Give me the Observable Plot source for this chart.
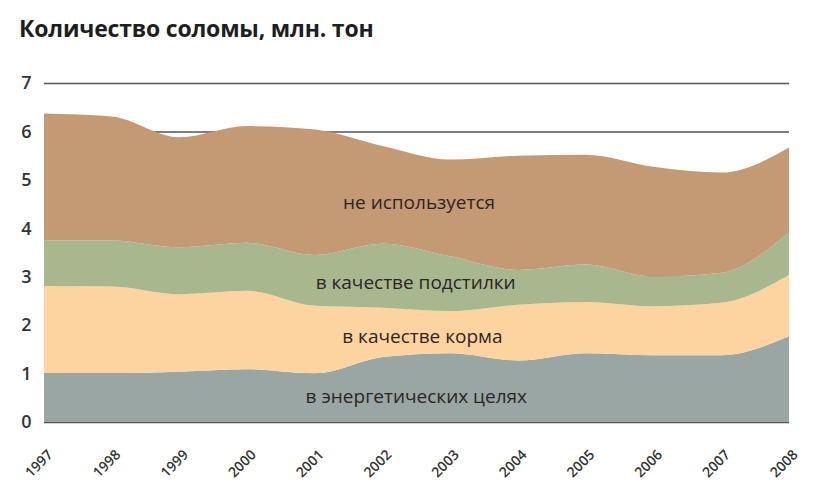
<!DOCTYPE html>
<html><head><meta charset="utf-8">
<script src="https://cdn.jsdelivr.net/npm/d3@7"></script>
<script src="https://cdn.jsdelivr.net/npm/@observablehq/plot@0.6"></script>
<style>
body{margin:0;background:#fff;font-family:"Open Sans",sans-serif;}
#title{height:60px;box-sizing:border-box;padding:12px 0 0 19px;font-size:23px;font-weight:700;color:#1e1e1e;letter-spacing:-0.2px;}
</style></head><body>
<div id="title">Количество соломы, млн. тон</div>
<div id="chart"></div>
<script>
const years = [1997, 1998, 1999, 2000, 2001, 2002, 2003, 2004, 2005, 2006, 2007, 2008];
const categories = ["в энергетических целях", "в качестве корма", "в качестве подстилки", "не используется"];
const colors = ["#9aa6a3", "#fdd49f", "#a8b88e", "#c49a74"];
const energy  = [1.01, 1.01, 1.04, 1.09, 1.00, 1.34, 1.42, 1.27, 1.42, 1.38, 1.38, 1.77];
const feed    = [1.80, 1.79, 1.60, 1.62, 1.40, 1.02, 0.87, 1.15, 1.06, 1.01, 1.08, 1.27];
const bedding = [0.94, 0.95, 0.97, 0.99, 1.05, 1.32, 1.13, 0.72, 0.77, 0.61, 0.62, 0.88];
const unused  = [2.62, 2.56, 2.27, 2.41, 2.59, 2.02, 2.00, 2.36, 2.27, 2.27, 2.07, 1.75];
const yTicks = [0, 1, 2, 3, 4, 5, 6, 7];
const labelYear  = [2002.49, 2002.58, 2002.48, 2002.53];
const labelValue = [0.52, 1.76, 2.88, 4.53];

const series = [energy, feed, bedding, unused];
const data = [];
series.forEach((vals, si) => vals.forEach((v, i) => data.push({year: years[i], value: v, cat: categories[si]})));
const labels = categories.map((c, i) => ({year: labelYear[i], value: labelValue[i], text: c}));

const chart = Plot.plot({
  width: 820,
  height: 430,
  marginTop: 23,
  marginBottom: 68,
  marginLeft: 44,
  marginRight: 31,
  style: {fontFamily: "'Open Sans', sans-serif", background: "#fff"},
  x: {domain: [1997, 2008], label: null},
  y: {domain: [0, 7], label: null},
  color: {domain: categories, range: colors},
  marks: [
    Plot.ruleY(yTicks, {stroke: "#555", strokeWidth: 1.6}),
    Plot.areaY(data, Plot.stackY({x: "year", y: "value", fill: "cat", order: categories, curve: "monotone-x"})),
    Plot.axisY({ticks: yTicks, tickFormat: d => String(d), tickSize: 0, tickPadding: 13, fontSize: 18, fontWeight: 600, fill: "#333", label: null}),
    Plot.axisX({ticks: years, tickFormat: d => String(d), tickRotate: -45, tickSize: 0, tickPadding: 18, dx: 6, dy: 12, fontSize: 14, fontWeight: 600, fill: "#333", label: null}),
    Plot.text(labels, {x: "year", y: "value", text: "text", fontSize: 19, fill: "#2e2424"})
  ]
});
document.getElementById("chart").appendChild(chart);
</script>
</body></html>
